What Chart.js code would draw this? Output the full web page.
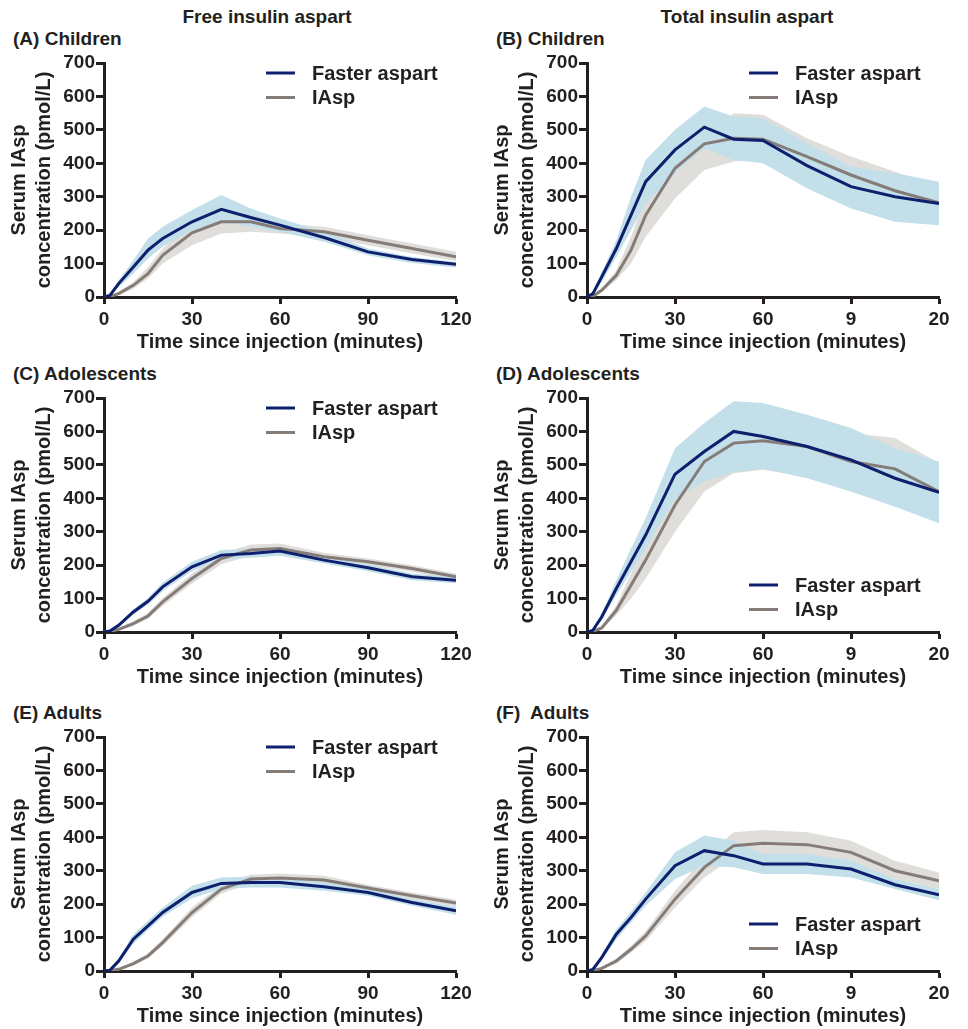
<!DOCTYPE html>
<html lang="en">
  <head>
    <meta charset="UTF-8" />
    <title>Insulin aspart profiles</title>
    <script src="https://cdn.jsdelivr.net/npm/chart.js@4/dist/chart.umd.min.js"></script>
    <style>
      body { margin: 0; background: #fff; }
      #wrap { position: relative; width: 968px; height: 1029px; font-family: 'Liberation Sans', Arial, sans-serif; font-weight: bold; color: #231f20; }
      #wrap canvas { position: absolute; }
      .head { position: absolute; top: 6px; font-size: 19px; width: 300px; text-align: center; }
      .lab { position: absolute; font-size: 19px; white-space: pre; }
    </style>
  </head>
  <body>
    <div id="wrap">
      <div class="head" style="left: 117px">Free insulin aspart</div>
      <div class="head" style="left: 597px">Total insulin aspart</div>
    </div>
    <script>
      // sampling times (minutes)
      const times = [0, 2, 5, 10, 15, 20, 30, 40, 50, 60, 75, 90, 105, 120];
      const leftTicks = ['0', '30', '60', '90', '120'];
      const rightTicks = ['0', '30', '60', '9', '20'];

      // (A) children, free
      const fasterA = [0, 5, 40, 90, 140, 175, 225, 262, 238, 215, 178, 135, 112, 98];
      const fasterA_lo = [0, 3, 30, 70, 115, 150, 200, 225, 210, 195, 165, 125, 102, 88];
      const fasterA_hi = [0, 8, 50, 110, 175, 210, 260, 305, 265, 235, 195, 145, 120, 105];
      const iaspA = [0, 1, 10, 35, 70, 125, 192, 225, 225, 205, 195, 170, 145, 120];
      const iaspA_lo = [0, 0, 6, 25, 55, 100, 155, 190, 195, 190, 180, 155, 130, 108];
      const iaspA_hi = [0, 2, 15, 45, 90, 145, 220, 250, 250, 220, 210, 185, 160, 135];

      // (B) children, total
      const fasterB = [0, 10, 60, 145, 245, 345, 440, 508, 472, 468, 393, 330, 300, 280];
      const fasterB_lo = [0, 7, 45, 120, 200, 280, 370, 445, 410, 400, 325, 265, 225, 215];
      const fasterB_hi = [0, 13, 75, 170, 300, 410, 500, 570, 540, 535, 460, 390, 370, 345];
      const iaspB = [0, 2, 20, 65, 140, 245, 385, 458, 475, 472, 420, 365, 318, 282];
      const iaspB_lo = [0, 1, 15, 50, 100, 180, 295, 380, 405, 410, 380, 325, 285, 240];
      const iaspB_hi = [0, 3, 25, 80, 180, 300, 440, 470, 550, 545, 475, 420, 375, 330];

      // (C) adolescents, free
      const fasterC = [0, 3, 20, 60, 92, 135, 195, 230, 235, 242, 215, 192, 165, 155];
      const fasterC_lo = [0, 2, 14, 52, 82, 123, 182, 218, 222, 228, 205, 182, 155, 146];
      const fasterC_hi = [0, 5, 26, 68, 102, 148, 210, 245, 248, 255, 225, 202, 175, 164];
      const iaspC = [0, 1, 8, 25, 48, 90, 160, 220, 245, 250, 225, 210, 190, 165];
      const iaspC_lo = [0, 0, 5, 18, 40, 78, 145, 203, 228, 235, 215, 200, 180, 155];
      const iaspC_hi = [0, 2, 12, 32, 56, 102, 175, 235, 262, 265, 237, 220, 200, 175];

      // (D) adolescents, total
      const fasterD = [0, 5, 45, 130, 210, 290, 472, 540, 600, 585, 555, 515, 460, 418];
      const fasterD_lo = [0, 3, 35, 110, 180, 250, 400, 450, 478, 488, 460, 420, 375, 325];
      const fasterD_hi = [0, 8, 55, 155, 250, 340, 550, 625, 690, 685, 650, 610, 550, 510];
      const iaspD = [0, 1, 12, 65, 140, 215, 380, 510, 565, 572, 555, 510, 488, 420];
      const iaspD_lo = [0, 0, 8, 50, 100, 160, 300, 420, 475, 485, 465, 420, 410, 330];
      const iaspD_hi = [0, 2, 16, 80, 175, 270, 430, 560, 600, 610, 600, 595, 580, 505];

      // (E) adults, free
      const fasterE = [0, 2, 30, 95, 135, 175, 235, 262, 265, 265, 252, 235, 205, 180];
      const fasterE_lo = [0, 1, 22, 82, 122, 162, 218, 245, 250, 250, 240, 225, 195, 168];
      const fasterE_hi = [0, 4, 38, 110, 150, 190, 255, 280, 283, 280, 265, 245, 215, 192];
      const iaspE = [0, 1, 5, 22, 45, 85, 175, 245, 275, 278, 272, 248, 225, 203];
      const iaspE_lo = [0, 0, 3, 16, 38, 75, 160, 232, 262, 265, 260, 238, 215, 193];
      const iaspE_hi = [0, 2, 8, 28, 53, 95, 190, 258, 288, 292, 285, 258, 235, 213];

      // (F) adults, total
      const fasterF = [0, 5, 40, 110, 160, 215, 315, 360, 345, 320, 320, 305, 258, 228];
      const fasterF_lo = [0, 3, 32, 95, 145, 195, 275, 315, 310, 290, 290, 280, 245, 212];
      const fasterF_hi = [0, 8, 50, 125, 178, 235, 355, 405, 390, 350, 350, 330, 275, 245];
      const iaspF = [0, 1, 8, 30, 65, 105, 215, 310, 375, 382, 378, 355, 300, 270];
      const iaspF_lo = [0, 0, 5, 22, 55, 90, 190, 280, 340, 345, 345, 320, 275, 245];
      const iaspF_hi = [0, 2, 12, 38, 75, 120, 240, 340, 415, 422, 415, 390, 330, 295];

      const NAVY = '#0d1f6d';
      const GREY = '#857c78';
      const BLUE_BAND = '#c2dfea';
      const GREY_BAND = '#dfdedb';
      const INK = '#231f20';
      const FONT = "'Liberation Sans', Arial, sans-serif";

      const panels = [
        { label: '(A) Children', col: 0, row: 0, ticks: leftTicks, legend: 'top', f: [fasterA, fasterA_lo, fasterA_hi], g: [iaspA, iaspA_lo, iaspA_hi] },
        { label: '(B) Children', col: 1, row: 0, ticks: rightTicks, legend: 'top', f: [fasterB, fasterB_lo, fasterB_hi], g: [iaspB, iaspB_lo, iaspB_hi] },
        { label: '(C) Adolescents', col: 0, row: 1, ticks: leftTicks, legend: 'top', f: [fasterC, fasterC_lo, fasterC_hi], g: [iaspC, iaspC_lo, iaspC_hi] },
        { label: '(D) Adolescents', col: 1, row: 1, ticks: rightTicks, legend: 'bottom', f: [fasterD, fasterD_lo, fasterD_hi], g: [iaspD, iaspD_lo, iaspD_hi] },
        { label: '(E) Adults', col: 0, row: 2, ticks: leftTicks, legend: 'top', f: [fasterE, fasterE_lo, fasterE_hi], g: [iaspE, iaspE_lo, iaspE_hi] },
        { label: '(F)  Adults', col: 1, row: 2, ticks: rightTicks, legend: 'bottom', f: [fasterF, fasterF_lo, fasterF_hi], g: [iaspF, iaspF_lo, iaspF_hi] },
      ];
      const rowTop = [0, 335, 674];
      const colLeft = [0, 483];

      const pts = arr => arr.map((v, i) => ({ x: times[i], y: v }));

      // small legend drawn inside the plot area
      const insideLegend = {
        id: 'insideLegend',
        afterDraw(chart, args, opts) {
          const ctx = chart.ctx;
          const y0 = opts.where === 'top' ? 73 : 250;
          ctx.save();
          ctx.font = 'bold 20px ' + FONT;
          ctx.textBaseline = 'middle';
          ctx.textAlign = 'left';
          [0, 1].forEach(i => {
            const ds = chart.data.datasets[i];
            const y = y0 + i * 24.5;
            ctx.strokeStyle = ds.borderColor;
            ctx.lineWidth = 3;
            ctx.beginPath();
            ctx.moveTo(266, y);
            ctx.lineTo(295, y);
            ctx.stroke();
            ctx.fillStyle = INK;
            ctx.fillText(ds.label, 312, y + 1);
          });
          ctx.restore();
        },
      };

      const wrap = document.getElementById('wrap');
      panels.forEach(p => {
        const lab = document.createElement('div');
        lab.className = 'lab';
        lab.textContent = p.label;
        lab.style.left = (colLeft[p.col] + 13) + 'px';
        lab.style.top = (rowTop[p.row] + 28) + 'px';
        wrap.appendChild(lab);

        const cv = document.createElement('canvas');
        cv.width = 484;
        cv.height = 356;
        cv.style.left = colLeft[p.col] + 'px';
        cv.style.top = rowTop[p.row] + 'px';
        wrap.appendChild(cv);

        const line = (label, data, color) => ({
          label, data: pts(data), borderColor: color, borderWidth: 3,
          pointRadius: 0, fill: false, tension: 0,
        });
        const edge = (data, color, fill) => ({
          label: '', data: pts(data), borderWidth: 0, borderColor: color,
          backgroundColor: color, pointRadius: 0, fill, tension: 0,
        });

        new Chart(cv.getContext('2d'), {
          type: 'line',
          data: {
            datasets: [
              line('Faster aspart', p.f[0], NAVY),
              line('IAsp', p.g[0], GREY),
              edge(p.f[2], BLUE_BAND, false),
              edge(p.f[1], BLUE_BAND, '-1'),
              edge(p.g[2], GREY_BAND, false),
              edge(p.g[1], GREY_BAND, '-1'),
            ],
          },
          options: {
            responsive: false,
            animation: false,
            layout: { padding: { top: 63, left: 0, right: 28, bottom: 0 } },
            plugins: {
              legend: { display: false },
              tooltip: { enabled: false },
              insideLegend: { where: p.legend },
            },
            scales: {
              x: {
                type: 'linear', min: 0, max: 120,
                afterFit: s => { s.height = 59; },
                afterBuildTicks: s => { s.ticks = [0, 30, 60, 90, 120].map(v => ({ value: v })); },
                ticks: {
                  color: INK, padding: 4, maxRotation: 0,
                  font: { family: FONT, size: 19, weight: 'bold' },
                  callback: (v, i) => p.ticks[i],
                },
                grid: { drawOnChartArea: false, tickLength: 7, tickWidth: 3, tickColor: INK },
                border: { color: INK, width: 3 },
                title: {
                  display: true, text: 'Time since injection (minutes)', color: INK,
                  font: { family: FONT, size: 20, weight: 'bold' }, padding: { top: 0, bottom: 2 },
                },
              },
              y: {
                min: 0, max: 700,
                afterFit: s => { s.width = 104; },
                ticks: {
                  stepSize: 100, color: INK, padding: 1,
                  font: { family: FONT, size: 19, weight: 'bold' },
                },
                grid: { drawOnChartArea: false, tickLength: 8, tickWidth: 3, tickColor: INK },
                border: { color: INK, width: 3 },
                title: {
                  display: true, text: ['Serum IAsp', 'concentration (pmol/L)'], color: INK,
                  font: { family: FONT, size: 20, weight: 'bold', lineHeight: 1.25 }, padding: { top: 7, bottom: 0 },
                },
              },
            },
          },
          plugins: [insideLegend],
        });
      });
    </script>
  </body>
</html>
